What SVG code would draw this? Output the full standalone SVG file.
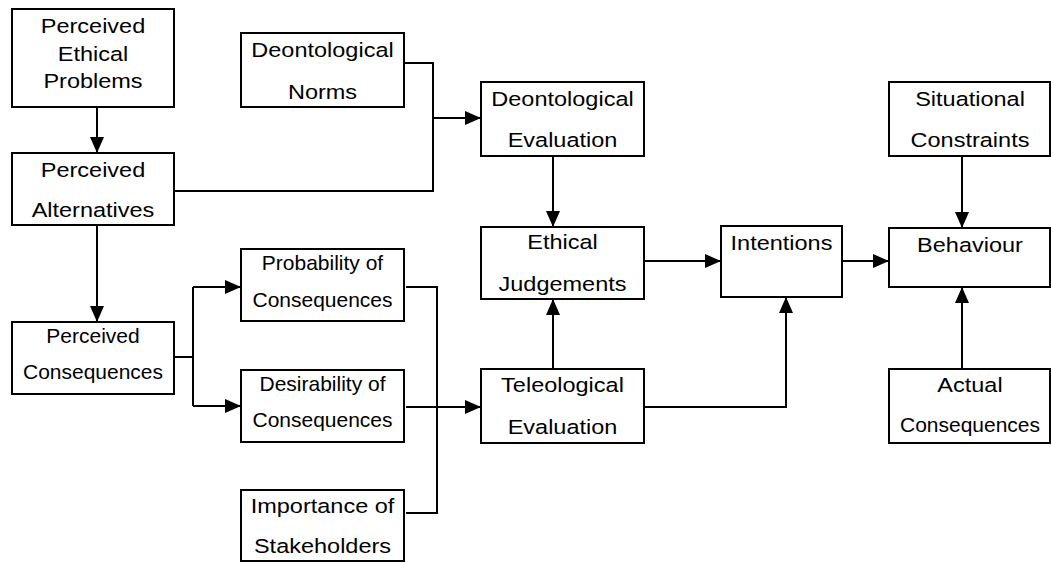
<svg xmlns="http://www.w3.org/2000/svg" width="1051" height="563" viewBox="0 0 1051 563">
  <style>
    .box { fill: #fff; stroke: #000; stroke-width: 2; }
    .wire { fill: none; stroke: #000; stroke-width: 2; }
    text { font-family: "Liberation Sans", Arial, sans-serif; fill: #000; text-anchor: middle; }
    .lg { font-size: 23.5px; }
    .sm { font-size: 21px; }
  </style>
  <defs>
    <marker id="arrow" markerUnits="userSpaceOnUse" markerWidth="16" markerHeight="14" refX="16" refY="7" orient="auto">
      <path d="M0,0 L16,7 L0,14 z" fill="#000"/>
    </marker>
  </defs>
  <rect width="1051" height="563" fill="#fff"/>

  <!-- connectors -->
  <g id="connectors" class="wire">
    <line x1="97" y1="107" x2="97" y2="153" marker-end="url(#arrow)"/>
    <line x1="97" y1="225" x2="97" y2="322" marker-end="url(#arrow)"/>
    <polyline points="404,63 433,63 433,191 174,191"/>
    <line x1="433" y1="118" x2="481" y2="118" marker-end="url(#arrow)"/>
    <line x1="553" y1="156" x2="553" y2="227" marker-end="url(#arrow)"/>
    <line x1="553" y1="369" x2="553" y2="299" marker-end="url(#arrow)"/>
    <line x1="644" y1="261" x2="721" y2="261" marker-end="url(#arrow)"/>
    <polyline points="644,407 786,407 786,297" marker-end="url(#arrow)"/>
    <line x1="842" y1="261" x2="889" y2="261" marker-end="url(#arrow)"/>
    <line x1="962" y1="156" x2="962" y2="228" marker-end="url(#arrow)"/>
    <line x1="962" y1="369" x2="962" y2="287" marker-end="url(#arrow)"/>
    <polyline points="174,357 193,357"/>
    <line x1="193" y1="287" x2="193" y2="406"/>
    <line x1="193" y1="287" x2="241" y2="287" marker-end="url(#arrow)"/>
    <line x1="193" y1="406" x2="241" y2="406" marker-end="url(#arrow)"/>
    <polyline points="406,287 437,287 437,513 406,513"/>
    <line x1="406" y1="407" x2="481" y2="407" marker-end="url(#arrow)"/>
  </g>

  <!-- nodes -->
  <g id="perceived-ethical-problems">
    <rect class="box" x="12" y="9" width="162" height="98"/>
    <text class="lg" transform="translate(93,33.3) scale(1,0.88)">Perceived</text>
    <text class="lg" transform="translate(93,61) scale(1,0.88)">Ethical</text>
    <text class="lg" transform="translate(93,87.7) scale(1,0.88)">Problems</text>
  </g>
  <g id="perceived-alternatives">
    <rect class="box" x="12" y="153" width="162" height="72"/>
    <text class="lg" transform="translate(93,176.7) scale(1,0.88)">Perceived</text>
    <text class="lg" transform="translate(93,216.7) scale(1,0.88)">Alternatives</text>
  </g>
  <g id="perceived-consequences">
    <rect class="box" x="12" y="322" width="162" height="72"/>
    <text class="sm" transform="translate(93,342.7) scale(1,0.94)">Perceived</text>
    <text class="sm" transform="translate(93,379.3) scale(1,0.94)">Consequences</text>
  </g>
  <g id="deontological-norms">
    <rect class="box" x="241" y="33" width="163" height="74"/>
    <text class="lg" transform="translate(322.5,57.3) scale(1,0.88)">Deontological</text>
    <text class="lg" transform="translate(322.5,99) scale(1,0.88)">Norms</text>
  </g>
  <g id="probability-of-consequences">
    <rect class="box" x="241" y="249" width="163" height="72"/>
    <text class="sm" transform="translate(322.5,270) scale(1,0.94)">Probability of</text>
    <text class="sm" transform="translate(322.5,306.7) scale(1,0.94)">Consequences</text>
  </g>
  <g id="desirability-of-consequences">
    <rect class="box" x="241" y="370" width="163" height="72"/>
    <text class="sm" transform="translate(322.5,390.7) scale(1,0.94)">Desirability of</text>
    <text class="sm" transform="translate(322.5,427.3) scale(1,0.94)">Consequences</text>
  </g>
  <g id="importance-of-stakeholders">
    <rect class="box" x="241" y="490" width="163" height="71"/>
    <text class="lg" transform="translate(322.5,512.7) scale(1,0.88)">Importance of</text>
    <text class="lg" transform="translate(322.5,553.3) scale(1,0.88)">Stakeholders</text>
  </g>
  <g id="deontological-evaluation">
    <rect class="box" x="481" y="82" width="163" height="74"/>
    <text class="lg" transform="translate(562.5,105.7) scale(1,0.88)">Deontological</text>
    <text class="lg" transform="translate(562.5,147.3) scale(1,0.88)">Evaluation</text>
  </g>
  <g id="ethical-judgements">
    <rect class="box" x="481" y="227" width="163" height="72"/>
    <text class="lg" transform="translate(562.5,249.3) scale(1,0.88)">Ethical</text>
    <text class="lg" transform="translate(562.5,291) scale(1,0.88)">Judgements</text>
  </g>
  <g id="teleological-evaluation">
    <rect class="box" x="481" y="369" width="163" height="74"/>
    <text class="lg" transform="translate(562.5,392.3) scale(1,0.88)">Teleological</text>
    <text class="lg" transform="translate(562.5,434) scale(1,0.88)">Evaluation</text>
  </g>
  <g id="intentions">
    <rect class="box" x="721" y="226" width="121" height="71"/>
    <text class="lg" transform="translate(781.5,250) scale(1,0.88)">Intentions</text>
  </g>
  <g id="situational-constraints">
    <rect class="box" x="889" y="82" width="161" height="74"/>
    <text class="lg" transform="translate(970,105.7) scale(1,0.88)">Situational</text>
    <text class="lg" transform="translate(970,147.3) scale(1,0.88)">Constraints</text>
  </g>
  <g id="behaviour">
    <rect class="box" x="889" y="228" width="161" height="59"/>
    <text class="lg" transform="translate(970,251.7) scale(1,0.88)">Behaviour</text>
  </g>
  <g id="actual-consequences">
    <rect class="box" x="889" y="369" width="161" height="74"/>
    <text class="lg" transform="translate(970,392.3) scale(1,0.88)">Actual</text>
    <text class="sm" transform="translate(970,431.7) scale(1,0.94)">Consequences</text>
  </g>
</svg>
